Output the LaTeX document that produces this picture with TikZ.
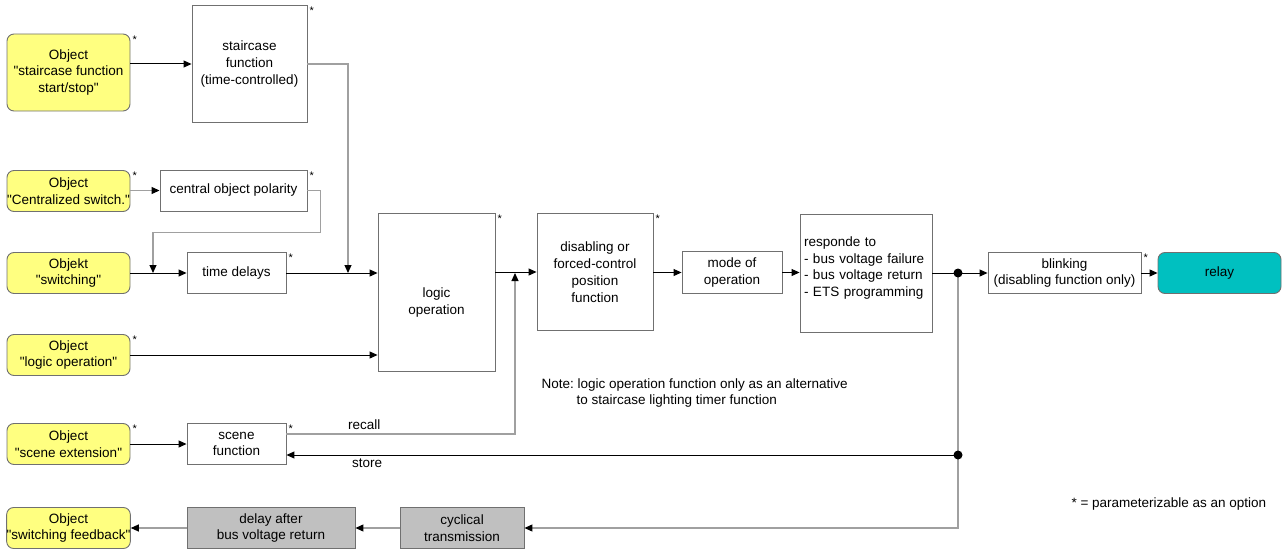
\documentclass[tikz,border=0pt]{standalone}
\usepackage{fontspec}
\setmainfont{Liberation Sans}[Ligatures=TeXOff]
\usetikzlibrary{arrows.meta, positioning}
\definecolor{gelb}{HTML}{FFFF80}
\definecolor{rahmen}{HTML}{707070}
\definecolor{linie}{HTML}{A0A0A0}
\definecolor{tuerkis}{HTML}{00C0C0}
\definecolor{grau}{HTML}{C0C0C0}

\begin{document}
\begin{tikzpicture}[x=1pt, y=-1pt, font=\fontsize{13.5}{16.8}\selectfont,
  block/.style={draw=rahmen, line width=0.9pt, fill=white, align=center, inner sep=1pt},
  objekt/.style={block, fill=gelb, rounded corners=7pt, inner sep=0pt, minimum width=123pt, minimum height=41pt},
  graublock/.style={block, fill=grau, minimum height=41pt},
  opt/.style={label={[anchor=north west, inner sep=2pt, font=\fontsize{11}{11}\selectfont]north east:*}},
  pfeil/.style={line width=1pt, -{Triangle[length=8pt, width=7pt, color=black]}},
  grau linie/.style={pfeil, draw=linie, line width=1.1pt}]

  \useasboundingbox (0,0) rectangle (1283,551);

  % --- Eingangsobjekte und Funktionsbloecke ---
  \node[objekt, opt, minimum height=77pt] (oStair) at (68.5,72.5)
    {Object\\"staircase function\\start/stop"};
  \node[block, opt, minimum width=115pt, minimum height=117pt] (stair) at (249.5,64)
    {staircase\\function\\(time-controlled)};

  \node[objekt, opt] (oZentral) at (68.5,191) {Object\\"Centralized switch."};
  \node[block, opt, minimum width=147pt, minimum height=41pt] (polar) at (233.5,190.5)
    {central object polarity};

  \node[objekt] (oSchalten) at (68.5,273) {Objekt\\"switching"};
  \node[block, opt, minimum width=99pt, minimum height=41pt] (delays) at (236.5,273)
    {time delays};

  \node[block, opt, minimum width=117pt, minimum height=158pt] (logik) at (436.5,292)
    {\mbox{}\\[14pt]logic\\operation};
  \node[objekt, opt] (oLogik) at (68.5,355) {Object\\"logic operation"};

  \node[objekt, opt] (oSzene) at (68.5,444) {Object\\"scene extension"};
  \node[block, opt, minimum width=99pt, minimum height=41pt] (szene) at (236.5,444)
    {scene\\function};

  % --- Hauptkette ---
  \node[block, opt, minimum width=116pt, minimum height=117pt] (sperr) at (595,272)
    {disabling or\\forced-control\\position\\function};
  \node[block, minimum width=100pt, minimum height=42pt] (modus) at (732,272.5)
    {mode of\\operation};
  \node[block, minimum width=132pt, minimum height=118pt, align=left, text width=124pt]
    (verhalten) at (866,273)
    {responde to\\- bus voltage failure\\- bus voltage return\\- ETS programming\\[-4pt]\mbox{}};
  \node[block, opt, minimum width=153pt, minimum height=41pt] (blinken) at (1064.5,273)
    {blinking\\(disabling function only)};
  \node[block, fill=tuerkis, rounded corners=7pt, minimum width=123pt, minimum height=41pt]
    (relais) at (1219.5,273) {relay};

  % --- Rueckmeldung ---
  \node[graublock, minimum width=124pt] (zyklisch) at (462,528) {cyclical\\transmission};
  \node[graublock, minimum width=168pt] (verzoeg) at (271,528) {delay after\\bus voltage return};
  \node[objekt] (oRueck) at (68.5,528) {Object\\"switching feedback"};

  % --- Texte ---
  \node[anchor=west, align=left] (notiz) at (538,393)
    {Note:\ logic operation function only as an alternative\\\hspace*{35pt}to staircase lighting timer function};
  \node[anchor=west] (legende) at (1068,504) {* = parameterizable as an option};

  % --- Verbindungen ---
  \coordinate (jPol) at (153,273);
  \coordinate (jStair) at (348,273);
  \coordinate (jRecall) at (515,273);
  \coordinate (pAus) at (958,273);
  \coordinate (pStore) at (958,455);

  \draw[pfeil] (oStair.east |- stair.west) -- (stair.west);
  \draw[grau linie] (stair.east) -| (jStair);
  \draw[grau linie] (oZentral.east |- polar.west) -- (polar.west);
  \draw[grau linie] (polar.east) -- ++(13,0) -- ++(0,42) -| (jPol);
  \draw[pfeil] (oSchalten.east) -- (delays.west);
  \draw[pfeil] (delays.east) -- (delays.east -| logik.west);
  \draw[pfeil] (oLogik.east) -- (oLogik.east -| logik.west);
  \draw[pfeil] (logik.east |- sperr.west) -- (sperr.west);
  \draw[grau linie] ([yshift=10pt]szene.east) -| node[above, pos=0.17, text=black] {recall} (jRecall);
  \draw[pfeil] (sperr.east |- modus.west) -- (modus.west);
  \draw[pfeil] (modus.east) -- (modus.east -| verhalten.west);
  \draw[pfeil] (verhalten.east |- blinken.west) -- (blinken.west);
  \draw[pfeil] (blinken.east) -- (relais.west);
  \draw[grau linie] (pAus) |- (zyklisch.east);
  \draw[pfeil] (pStore) -- node[below, pos=0.88] {store} (pStore -| szene.east);
  \draw[pfeil] (oSzene.east) -- (szene.west);
  \draw[grau linie] (zyklisch.west) -- (verzoeg.east);
  \draw[grau linie] (verzoeg.west) -- (oRueck.east);

  \fill (pAus) circle (4.5pt);
  \fill (pStore) circle (4.5pt);

\end{tikzpicture}
\end{document}
